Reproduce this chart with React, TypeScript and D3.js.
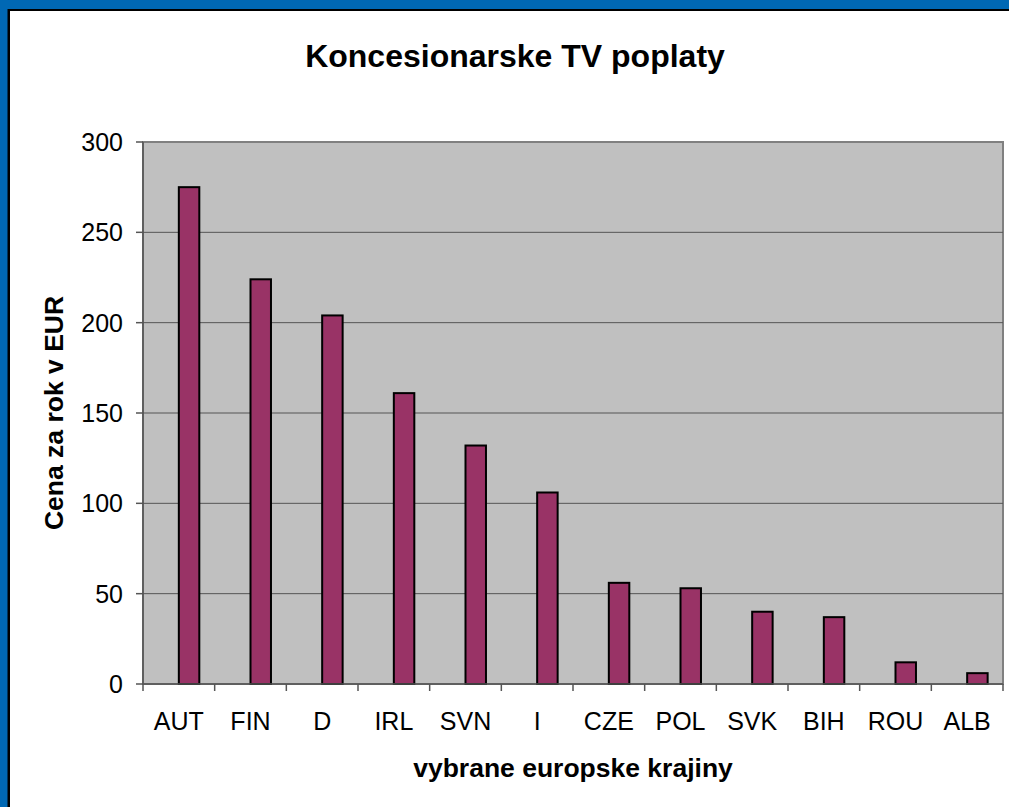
import React from "react";
import * as d3 from "d3";

const categories = ["AUT", "FIN", "D", "IRL", "SVN", "I", "CZE", "POL", "SVK", "BIH", "ROU", "ALB"];
const values = [275, 224, 204, 161, 132, 106, 56, 53, 40, 37, 12, 6];
const yTicks = [0, 50, 100, 150, 200, 250, 300];
const title = "Koncesionarske TV poplaty";
const xTitle = "vybrane europske krajiny";
const yTitle = "Cena za rok v EUR";

export default function App() {
  const W = 1009, H = 807;
  const left = 143, right = 1003, top = 142, bottom = 684;
  const font = "'Liberation Sans', Arial, sans-serif";
  const x = d3.scaleBand<string>().domain(categories).range([left, right]).padding(0);
  const y = d3.scaleLinear().domain([0, 300]).range([bottom, top]);
  const bw = x.bandwidth();
  const barW = bw / 3.5;
  return (
    <svg width={W} height={H} style={{ position: "absolute", left: 0, top: 0 }}>
      <rect x={0} y={0} width={W} height={H} fill="#0068B4" />
      <rect x={7.5} y={9} width={W} height={H} fill="#000" />
      <rect x={10} y={11} width={W} height={H} fill="#fff" />
      <rect x={left} y={top} width={right - left} height={bottom - top} fill="#c0c0c0" stroke="#808080" strokeWidth={2} />
      {yTicks.filter((t) => t > 0 && t < 300).map((t) => (
        <line key={t} x1={left} x2={right} y1={y(t)} y2={y(t)} stroke="#555" strokeWidth={1} />
      ))}
      {categories.map((c, i) => (
        <rect key={c} x={(x(c) as number) + bw * 0.5} y={y(values[i])} width={barW} height={bottom - y(values[i])}
          fill="#993366" stroke="#000" strokeWidth={2} />
      ))}
      <line x1={left} x2={left} y1={top} y2={bottom} stroke="#555" strokeWidth={1.5} />
      <line x1={left} x2={right} y1={bottom} y2={bottom} stroke="#555" strokeWidth={1.5} />
      {yTicks.map((t) => (
        <g key={t}>
          <line x1={left - 7} x2={left} y1={y(t)} y2={y(t)} stroke="#555" strokeWidth={1.5} />
          <text x={123} y={y(t)} dy="0.36em" textAnchor="end" fontFamily={font} fontSize={25} fill="#000">{t}</text>
        </g>
      ))}
      {categories.concat([""]).map((c, i) => {
        const xx = left + i * bw;
        return <line key={"t" + i} x1={xx} x2={xx} y1={bottom} y2={bottom + 7} stroke="#555" strokeWidth={1.5} />;
      })}
      {categories.map((c) => (
        <text key={"l" + c} x={(x(c) as number) + bw / 2} y={730} textAnchor="middle" fontFamily={font} fontSize={25} fill="#000">{c}</text>
      ))}
      <text x={515} y={67} textAnchor="middle" fontFamily={font} fontSize={32} fontWeight="bold" fill="#000">{title}</text>
      <text x={573} y={777} textAnchor="middle" fontFamily={font} fontSize={26.5} fontWeight="bold" fill="#000">{xTitle}</text>
      <text transform={`translate(63,413) rotate(-90)`} textAnchor="middle" fontFamily={font} fontSize={26.5} fontWeight="bold" fill="#000">{yTitle}</text>
    </svg>
  );
}
